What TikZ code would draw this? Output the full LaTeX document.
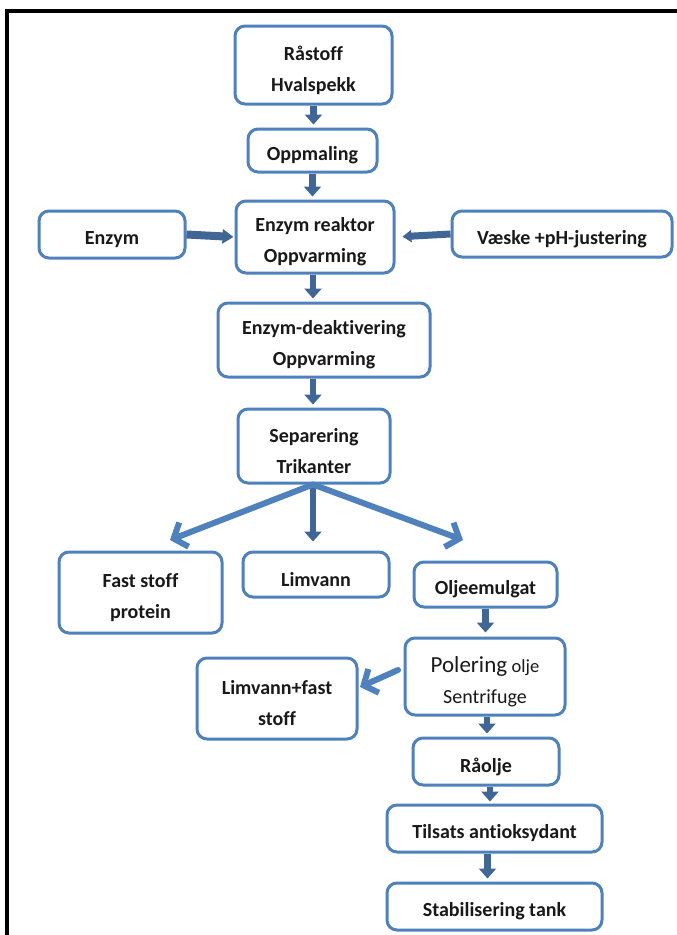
\documentclass[tikz,border=0pt]{standalone}
\usepackage{fontspec}
\setmainfont{Carlito}[Ligatures=NoCommon]
\usetikzlibrary{arrows.meta}
\definecolor{boxblue}{RGB}{79,129,189}
\definecolor{arrdark}{RGB}{64,102,150}
\definecolor{arrlight}{RGB}{79,129,189}
\tikzset{
  box/.style={draw=boxblue, line width=3, rounded corners=10, fill=white, inner sep=0},
  boxtext/.style={align=center, inner sep=0, font=\fontsize{20}{31}\selectfont\bfseries, text=black!90},
  downarrow/.style={draw=arrdark, line width=6.5, -{Triangle[length=10,width=17]}},
  sidearrow/.style={draw=arrdark, line width=8, -{Triangle[length=11,width=14]}},
  fanarrow/.style={draw=arrlight, line width=6, -{Straight Barb[length=11,width=26]}, line cap=round}
}
\newcommand\flowbox[7][]{%
  \node[box, minimum width=#5, minimum height=#6] (#2) at (#3,#4) {};
  \node[boxtext, #1] (#2-t) at ([yshift=-5]#2.center) {#7};}
\begin{document}
\begin{tikzpicture}[x=1pt,y=-1pt]
\useasboundingbox (0,0) rectangle (677,935);
\fill[white] (0,0) rectangle (677,935);
\draw[line width=3.5] (7,937) -- (7,11) -- (679,11);

\flowbox{raw}{313.5}{65}{157}{78}{Råstoff\\Hvalspekk}
\flowbox{oppm}{312.5}{150.5}{129}{43}{Oppmaling}
\flowbox{reakt}{315}{237}{158}{72}{Enzym reaktor\\Oppvarming}
\flowbox{enzym}{112}{234.5}{146}{47}{Enzym}
\flowbox{vaeske}{562}{234}{220}{46}{Væske +pH-justering}
\flowbox{deakt}{324}{340}{212}{74}{Enzym-deaktivering\\Oppvarming}
\flowbox{sep}{314}{446}{152}{74}{Separering\\Trikanter}
\flowbox{fast}{140.5}{592.5}{163}{81}{Fast stoff\\protein}
\flowbox{limv}{316}{574.5}{146}{45}{Limvann}
\flowbox{olje}{485.5}{584.5}{143}{45}{Oljeemulgat}
\flowbox[font=\fontsize{20}{31}\selectfont]{pol}{485}{676.5}{160}{77}%
  {{\fontsize{23}{31}\selectfont Polering} {\fontsize{18.5}{31}\selectfont olje}\\Sentrifuge}
\flowbox{limfast}{277}{698.5}{160}{81}{Limvann+fast\\stoff}
\flowbox{raolje}{486}{761.5}{146}{47}{Råolje}
\flowbox{tils}{494.5}{828.5}{215}{47}{Tilsats antioksydant}
\flowbox{stab}{494.5}{906.5}{215}{47}{Stabilisering tank}

\coordinate (fastin) at (170,540);
\coordinate (oljein) at (463,540);
\coordinate (polout) at (398,670);
\coordinate (limin) at (360,687);

\draw[downarrow, shorten >=3] (raw.south) -- (raw.south |- oppm.north);
\draw[downarrow, shorten >=3] (oppm.south) -- (oppm.south |- reakt.north);
\draw[downarrow, shorten >=3] ([xshift=-2]reakt.south) -- ([xshift=-2]reakt.south |- deakt.north);
\draw[downarrow, shorten >=3] ([xshift=-11]deakt.south) -- ([xshift=-11]deakt.south |- sep.north);
\draw[sidearrow, shorten >=1] (enzym.east) -- (reakt.west);
\draw[draw=arrdark, line width=7, -{Triangle[length=9,width=12]}, shorten >=7] (vaeske.west) -- (reakt.east);
\draw[downarrow, shorten >=9] ([xshift=-1]sep.south) -- ([xshift=-1]sep.south |- limv.north);
\draw[fanarrow] ([xshift=-1]sep.south) -- (fastin);
\draw[fanarrow] ([xshift=-1]sep.south) -- (oljein);
\draw[downarrow, shorten >=4] (olje.south) -- (olje.south |- pol.north);
\draw[fanarrow] (polout) -- (limin);
\draw[downarrow, shorten >=3] ([xshift=2]pol.south) -- ([xshift=2]pol.south |- raolje.north);
\draw[downarrow, shorten >=2] ([xshift=4]raolje.south) -- ([xshift=4]raolje.south |- tils.north);
\draw[downarrow, shorten >=3] ([xshift=-7]tils.south) -- ([xshift=-7]tils.south |- stab.north);
\end{tikzpicture}
\end{document}
